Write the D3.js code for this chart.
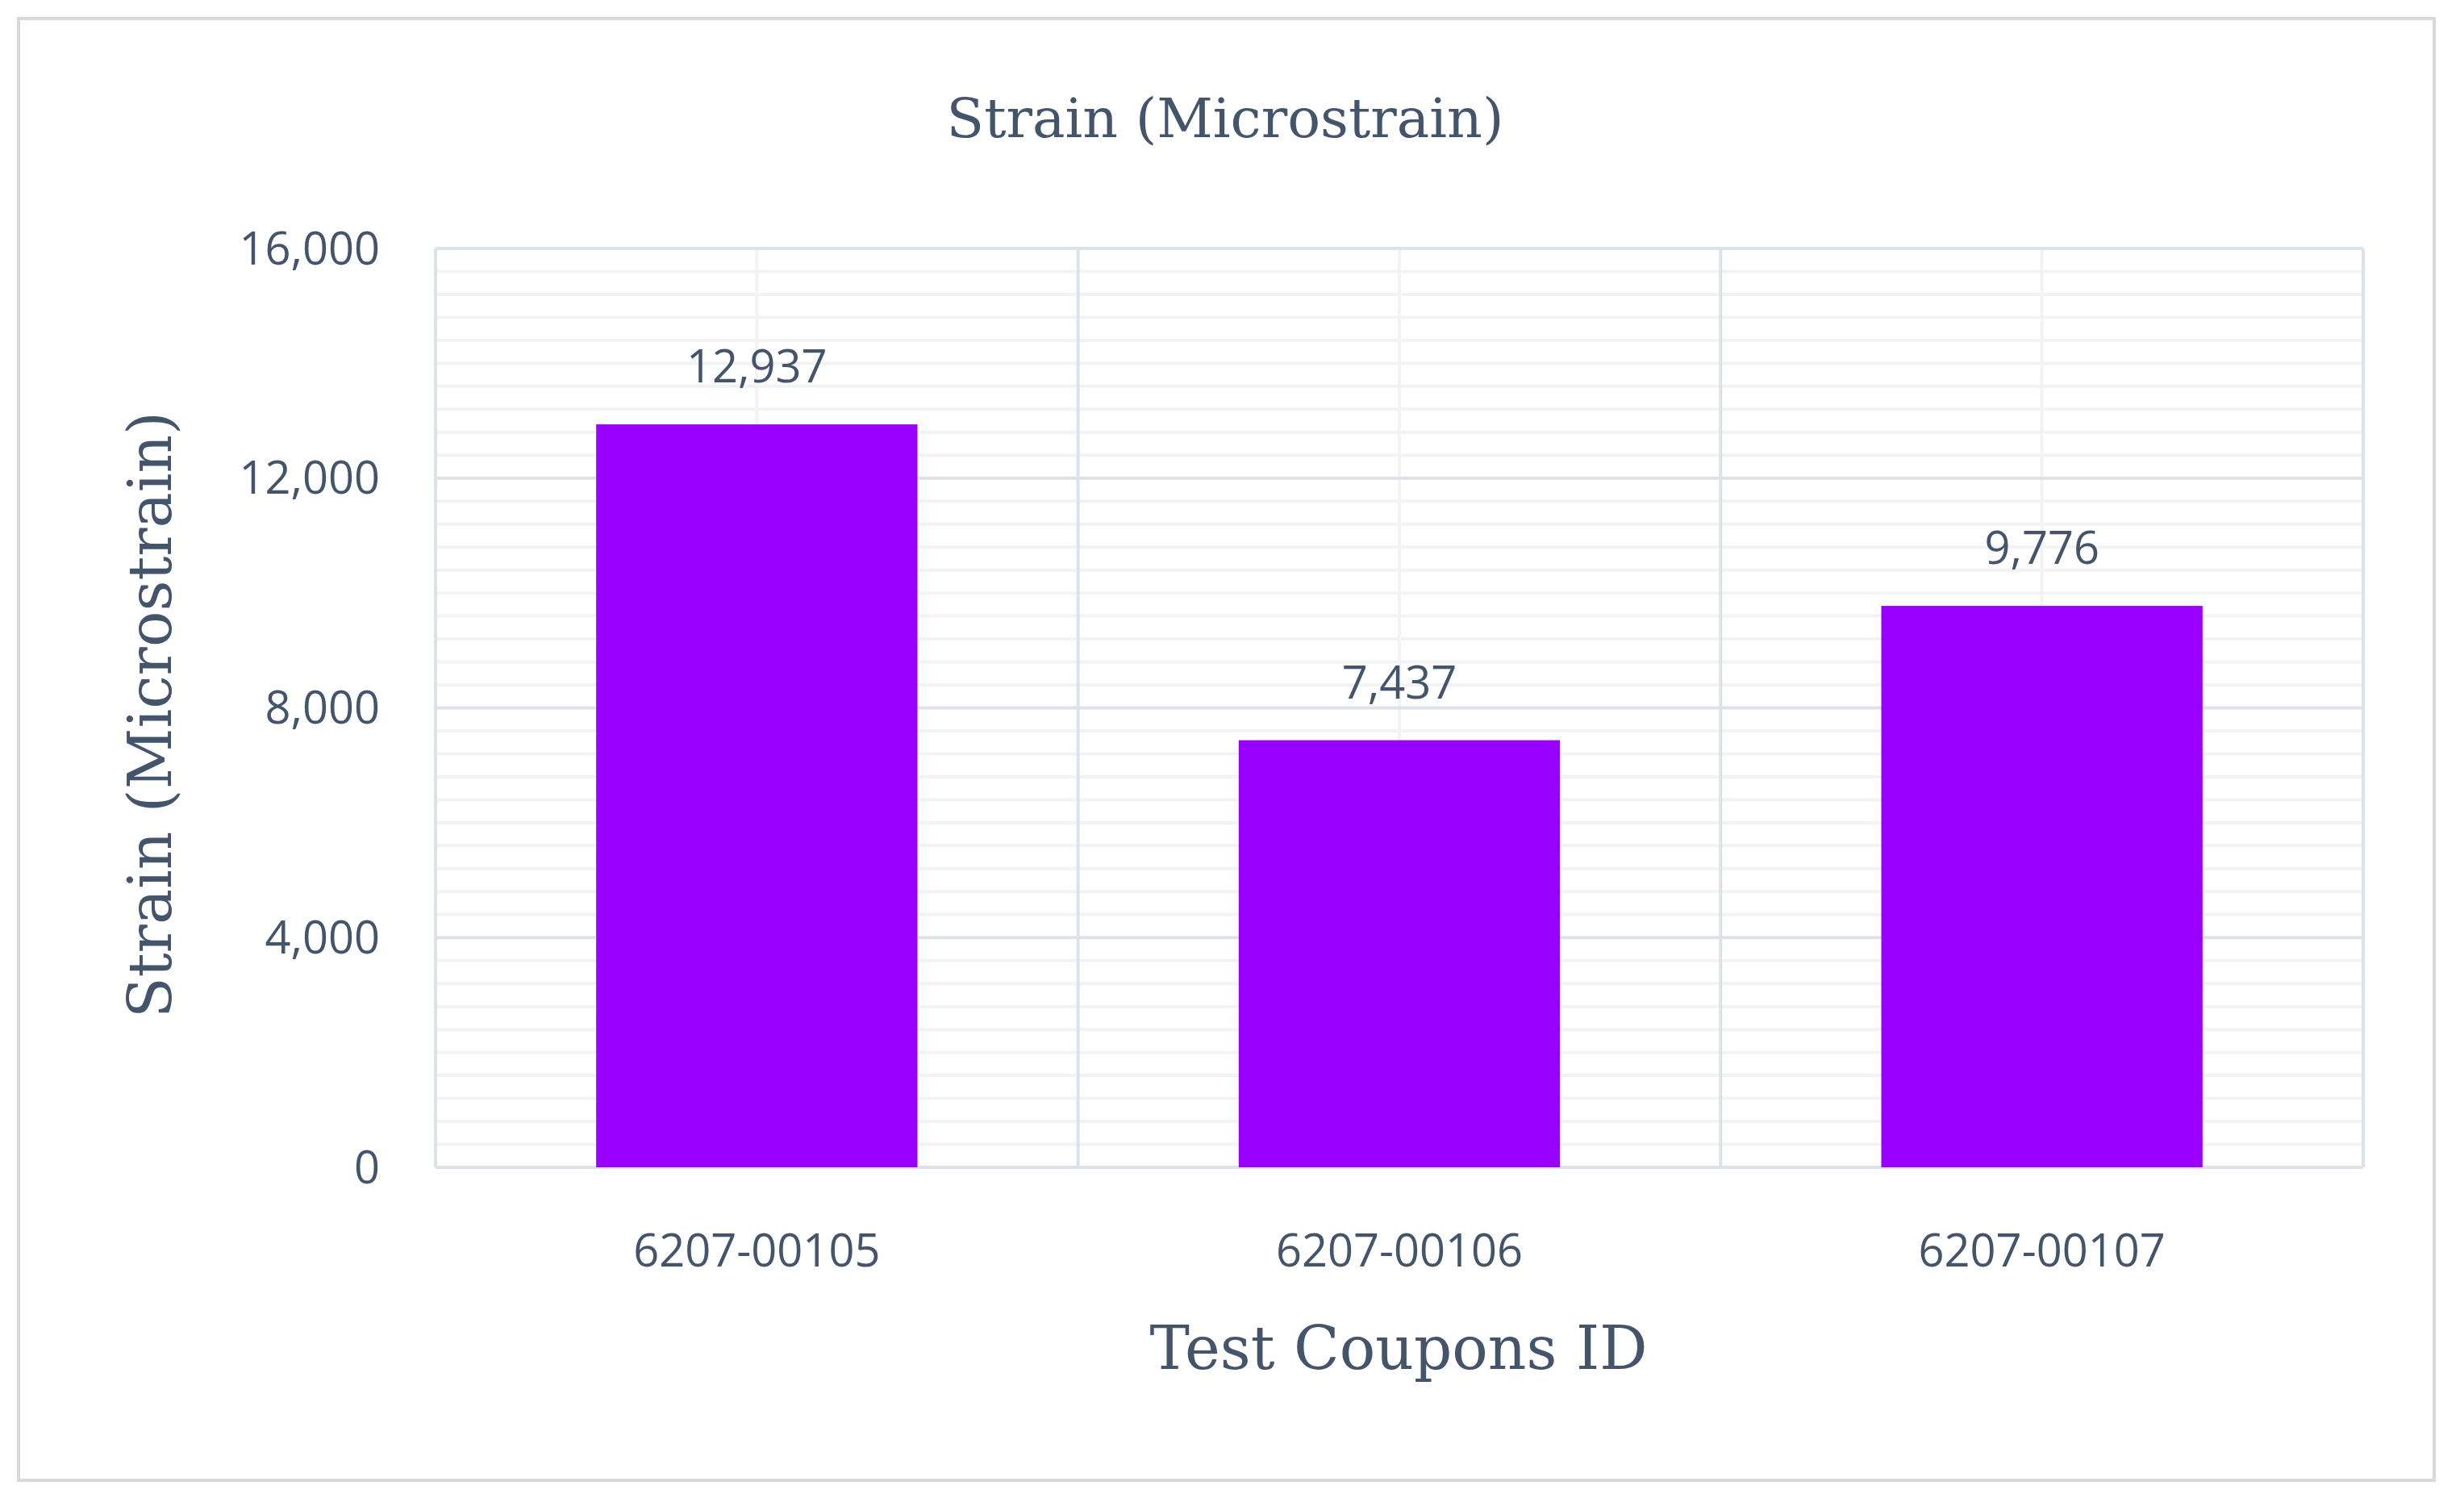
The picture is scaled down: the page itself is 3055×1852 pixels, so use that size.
<!DOCTYPE html>
<html>
<head>
<meta charset="utf-8">
<script src="https://cdn.jsdelivr.net/npm/d3@7"></script>
<style>
  body { margin: 0; background: #fff; }
</style>
</head>
<body>
<svg width="3055" height="1852"></svg>
<script>
const coupons = ["6207-00105", "6207-00106", "6207-00107"];
const strainValues = [12937, 7437, 9776];
const yTicks = [0, 4000, 8000, 12000, 16000];

const svg = d3.select("svg");
const textColor = "#44546a";
const margin = { top: 308, right: 125, bottom: 405, left: 540 };
const width = 3055 - margin.left - margin.right;
const height = 1852 - margin.top - margin.bottom;

svg.append("rect")
  .attr("x", 23).attr("y", 23)
  .attr("width", 2995).attr("height", 1812)
  .attr("fill", "none").attr("stroke", "#d9d9d9").attr("stroke-width", 4);

const g = svg.append("g").attr("transform", `translate(${margin.left},${margin.top})`);

const x = d3.scaleBand().domain(coupons).range([0, width]).paddingInner(0.5).paddingOuter(0.25);
const xOuter = d3.scaleBand().domain(coupons).range([0, width]);
const y = d3.scaleLinear().domain([0, 16000]).range([height, 0]);

// minor grid
g.selectAll("line.minor")
  .data(d3.range(0, 16001, 400).filter(v => v % 4000 !== 0))
  .join("line")
  .attr("x1", 0).attr("x2", width)
  .attr("y1", d => y(d)).attr("y2", d => y(d))
  .attr("stroke", "#f2f3f5").attr("stroke-width", 4);

g.selectAll("line.vminor")
  .data(coupons)
  .join("line")
  .attr("x1", d => xOuter(d) + xOuter.bandwidth() / 2)
  .attr("x2", d => xOuter(d) + xOuter.bandwidth() / 2)
  .attr("y1", 0).attr("y2", height)
  .attr("stroke", "#f2f3f5").attr("stroke-width", 4);

// major grid
g.selectAll("line.major")
  .data(yTicks)
  .join("line")
  .attr("x1", 0).attr("x2", width)
  .attr("y1", d => y(d)).attr("y2", d => y(d))
  .attr("stroke", "#dde2e9").attr("stroke-width", 4);

g.selectAll("line.vmajor")
  .data(d3.range(0, coupons.length + 1))
  .join("line")
  .attr("x1", i => i * xOuter.bandwidth())
  .attr("x2", i => i * xOuter.bandwidth())
  .attr("y1", 0).attr("y2", height)
  .attr("stroke", "#dde2e9").attr("stroke-width", 4);

// bars
g.selectAll("rect.bar")
  .data(strainValues)
  .join("rect")
  .attr("x", (d, i) => x(coupons[i]))
  .attr("y", d => y(d))
  .attr("width", x.bandwidth())
  .attr("height", d => height - y(d))
  .attr("fill", "#9900ff");

g.selectAll("text.val")
  .data(strainValues)
  .join("text")
  .attr("x", (d, i) => x(coupons[i]) + x.bandwidth() / 2)
  .attr("y", d => y(d) - 52)
  .attr("text-anchor", "middle")
  .attr("font-family", "Open Sans")
  .attr("font-size", 56)
  .attr("fill", textColor)
  .text(d3.format(","));

// axes labels
const fmt = d3.format(",");
g.selectAll("text.ytick")
  .data(yTicks)
  .join("text")
  .attr("x", -69)
  .attr("y", d => y(d))
  .attr("dy", "0.35em")
  .attr("text-anchor", "end")
  .attr("font-family", "Open Sans")
  .attr("font-size", 56)
  .attr("fill", textColor)
  .text(fmt);

g.selectAll("text.xtick")
  .data(coupons)
  .join("text")
  .attr("x", d => xOuter(d) + xOuter.bandwidth() / 2)
  .attr("y", height + 123)
  .attr("text-anchor", "middle")
  .attr("font-family", "Open Sans")
  .attr("font-size", 56)
  .attr("fill", textColor)
  .text(d => d);

svg.append("text")
  .attr("x", 1519).attr("y", 170)
  .attr("text-anchor", "middle")
  .attr("font-family", "DejaVu Serif")
  .attr("font-size", 68)
  .attr("fill", textColor)
  .text("Strain (Microstrain)");

svg.append("text")
  .attr("x", 1734).attr("y", 1697)
  .attr("text-anchor", "middle")
  .attr("font-family", "DejaVu Serif")
  .attr("font-size", 74)
  .attr("fill", textColor)
  .text("Test Coupons ID");

svg.append("text")
  .attr("transform", "translate(212,886) rotate(-90)")
  .attr("text-anchor", "middle")
  .attr("font-family", "DejaVu Serif")
  .attr("font-size", 74)
  .attr("fill", textColor)
  .text("Strain (Microstrain)");
</script>
</body>
</html>
